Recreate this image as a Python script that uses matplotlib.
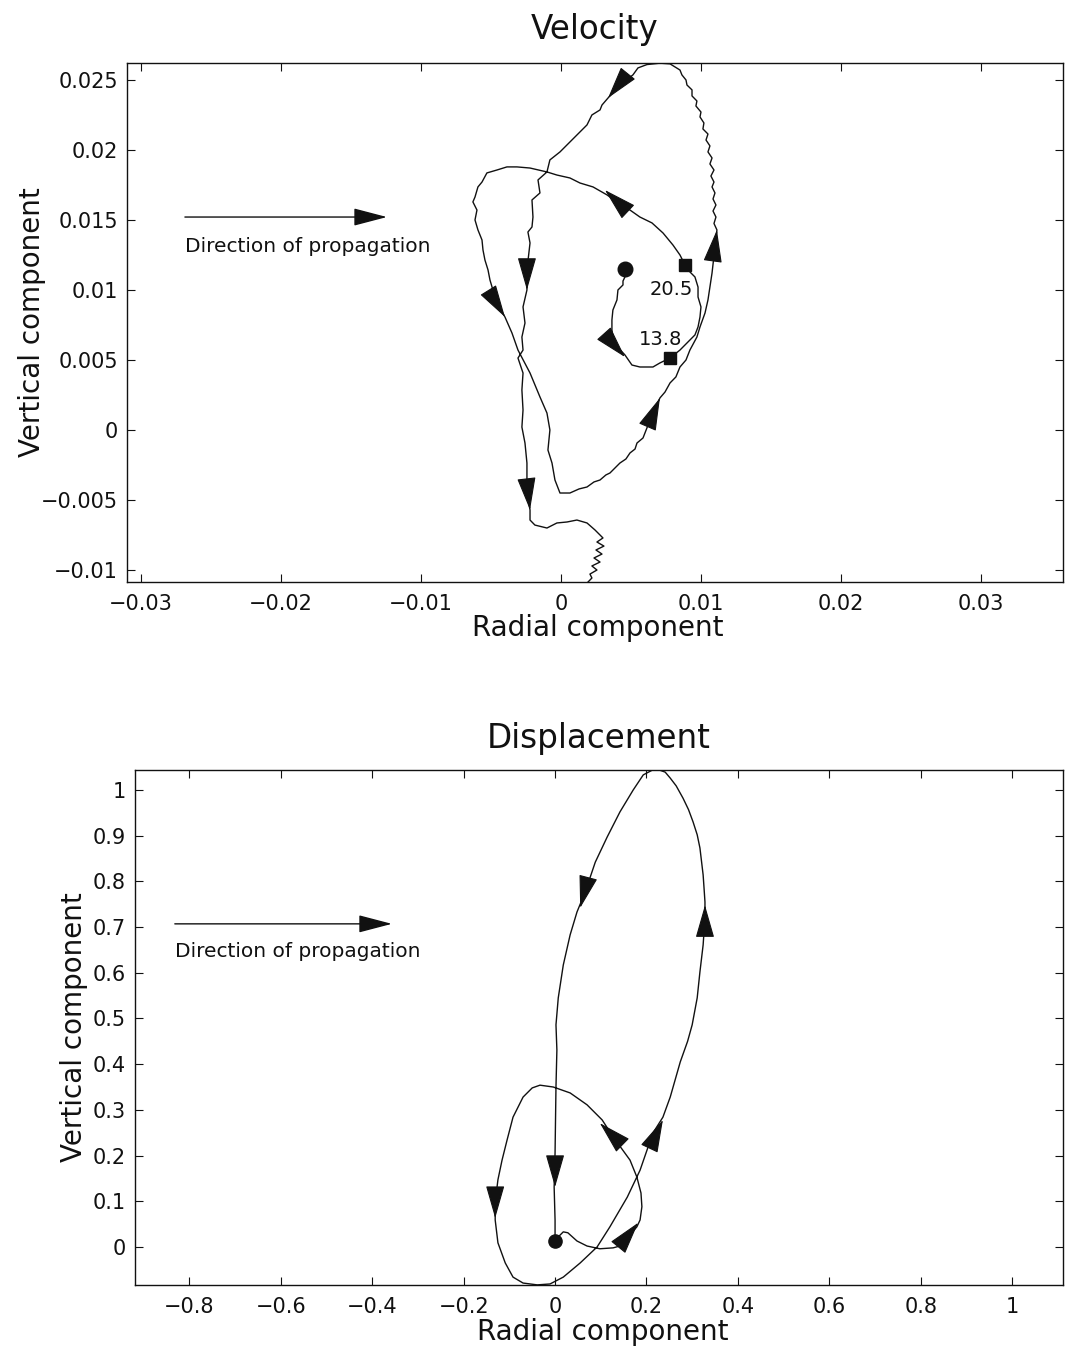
import numpy as np
import matplotlib
matplotlib.use('Agg')
import matplotlib.pyplot as plt

MINUS = '\u2212'

# Velocity particle motion, (radial, vertical) in units of 1e-3
vel_path = np.array([
    (4.57, 11.50), (4.57, 10.93), (4.43, 10.64), (4.43, 10.36), (4.07, 10.00),
    (4.00, 9.29), (3.71, 8.57), (3.64, 7.86), (3.64, 7.14), (3.79, 6.21),
    (4.57, 5.36), (5.07, 4.64), (5.64, 4.50), (6.57, 4.50), (7.07, 4.79),
    (7.79, 5.14), (8.50, 5.71), (9.21, 6.43), (9.57, 6.79), (9.79, 7.36),
    (9.93, 8.07), (10.00, 8.79), (9.79, 9.50), (9.79, 10.21), (9.57, 10.93),
    (9.21, 11.29), (8.86, 11.79), (8.50, 12.50), (8.00, 13.21), (7.29, 14.07),
    (6.50, 14.79), (5.64, 15.21), (4.93, 15.71), (4.00, 16.29), (3.29, 16.79),
    (2.29, 17.36), (1.36, 17.64), (0.64, 18.00), (-0.29, 18.21), (-1.00, 18.43),
    (-2.21, 18.71), (-3.14, 18.79), (-3.86, 18.79), (-4.57, 18.57), (-5.29, 18.36),
    (-5.64, 17.71), (-5.93, 17.36), (-6.14, 16.64), (-6.29, 16.29), (-6.00, 15.71),
    (-6.14, 15.00), (-5.93, 14.29), (-5.64, 13.57), (-5.57, 12.86), (-5.43, 12.14),
    (-5.21, 11.43), (-5.07, 10.71), (-4.86, 10.00), (-4.57, 9.07), (-4.00, 8.07),
    (-3.50, 6.93), (-3.07, 5.71), (-2.21, 4.07), (-1.50, 2.36), (-1.00, 1.21),
    (-0.79, 0.00), (-0.93, -1.43), (-0.64, -2.36), (-0.43, -3.57), (-0.07, -4.50),
    (0.64, -4.50), (1.29, -4.21), (1.86, -4.07), (2.36, -3.71), (2.79, -3.57),
    (3.21, -3.21), (3.50, -3.07), (3.93, -2.64), (4.21, -2.36), (4.64, -2.07),
    (4.93, -1.64), (5.29, -1.36), (5.43, -0.93), (5.86, -0.57), (6.00, -0.21),
    (6.50, 1.07), (7.07, 2.29), (7.43, 2.71), (7.79, 3.36), (8.21, 3.79),
    (8.50, 4.50), (8.93, 5.00), (9.21, 5.71), (9.71, 6.64), (9.93, 7.36),
    (10.29, 8.36), (10.50, 9.29), (10.64, 10.21), (10.79, 11.21), (11.00, 13.07),
    (11.14, 14.29), (10.93, 14.75), (11.07, 15.21), (10.86, 15.64), (11.07, 16.07),
    (10.86, 16.50), (11.00, 16.93), (10.79, 17.36), (10.93, 17.71), (10.71, 18.14),
    (10.93, 18.57), (10.64, 19.00), (10.79, 19.43), (10.50, 19.86), (10.64, 20.29),
    (10.36, 20.71), (10.50, 21.14), (10.14, 21.50), (10.21, 21.93), (9.93, 22.36),
    (10.00, 22.71), (9.64, 23.14), (9.71, 23.50), (9.36, 23.86), (9.36, 24.29),
    (9.00, 24.64), (8.93, 25.00), (8.64, 25.36), (8.50, 25.71), (8.14, 25.93),
    (7.79, 26.15), (7.07, 26.20), (6.14, 26.10), (5.50, 25.86), (5.14, 25.36),
    (4.21, 24.64), (3.36, 23.71), (2.93, 23.21), (2.79, 22.86), (2.21, 22.50),
    (1.86, 21.79), (1.14, 21.07), (0.43, 20.36), (-0.07, 19.86), (-0.79, 19.29),
    (-1.00, 18.43), (-1.64, 17.86), (-1.50, 16.93), (-2.07, 16.43), (-2.00, 15.21),
    (-2.07, 14.50), (-2.36, 14.14), (-2.21, 13.36), (-2.43, 11.43), (-2.43, 10.00),
    (-2.71, 8.79), (-2.57, 7.64), (-2.79, 6.64), (-2.71, 5.71), (-3.07, 5.14),
    (-2.71, 4.07), (-2.79, 2.86), (-2.71, 1.43), (-2.79, 0.21), (-2.57, -0.93),
    (-2.43, -2.36), (-2.43, -4.50), (-2.21, -5.71), (-2.21, -6.43), (-1.86, -6.79),
    (-1.00, -7.00), (-0.29, -6.64), (0.43, -6.57), (1.14, -6.43), (1.86, -6.64),
    (2.43, -7.14), (3.00, -7.71), (2.57, -8.00), (3.07, -8.29), (2.50, -8.57),
    (2.93, -8.86), (2.36, -9.14), (2.79, -9.43), (2.21, -9.71), (2.57, -10.00),
    (2.07, -10.29), (2.21, -10.57), (1.93, -10.86),
]) * 1e-3
vel_start = np.array([4.57, 11.50]) * 1e-3
vel_mark_times = ['13.8', '20.5']
vel_mark_points = np.array([(7.79, 5.14), (8.86, 11.79)]) * 1e-3
# direction heads along the path: (from_radial, from_vertical, to_radial, to_vertical)
vel_arrows = np.array([
    (3.29, 6.64, 4.57, 5.21),
    (4.50, 15.86, 3.14, 17.14),
    (-4.93, 9.57, -4.00, 8.07),
    (-2.43, 12.14, -2.43, 10.00),
    (-2.43, -3.79, -2.21, -5.71),
    (6.21, 0.29, 7.07, 2.29),
    (10.86, 12.21, 11.14, 14.29),
    (4.64, 25.29, 3.36, 23.71),
]) * 1e-3

# Displacement particle motion, (radial, vertical)
disp_path = np.array([
    (0.000, 0.013), (0.007, 0.022), (0.018, 0.033), (0.028, 0.031), (0.048, 0.013),
    (0.070, 0.002), (0.098, -0.004), (0.127, -0.002), (0.149, 0.004), (0.162, 0.024),
    (0.179, 0.044), (0.186, 0.059), (0.190, 0.088), (0.188, 0.118), (0.179, 0.153),
    (0.164, 0.190), (0.127, 0.241), (0.103, 0.278), (0.070, 0.311), (0.033, 0.337),
    (-0.004, 0.350), (-0.033, 0.354), (-0.050, 0.348), (-0.070, 0.328), (-0.092, 0.284),
    (-0.105, 0.234), (-0.116, 0.190), (-0.125, 0.147), (-0.131, 0.098), (-0.131, 0.059),
    (-0.125, 0.009), (-0.109, -0.035), (-0.092, -0.066), (-0.070, -0.079), (-0.039, -0.083),
    (-0.011, -0.081), (0.018, -0.066), (0.055, -0.035), (0.092, 0.000), (0.120, 0.044),
    (0.158, 0.109), (0.186, 0.168), (0.214, 0.249), (0.236, 0.284), (0.252, 0.328),
    (0.274, 0.405), (0.290, 0.450), (0.300, 0.486), (0.311, 0.545), (0.317, 0.602),
    (0.324, 0.661), (0.328, 0.720), (0.328, 0.755), (0.326, 0.785), (0.324, 0.814),
    (0.317, 0.873), (0.311, 0.902), (0.302, 0.930), (0.292, 0.957), (0.280, 0.982),
    (0.265, 1.009), (0.252, 1.026), (0.241, 1.039), (0.230, 1.043), (0.212, 1.043),
    (0.193, 1.033), (0.171, 1.000), (0.142, 0.952), (0.114, 0.897), (0.088, 0.842),
    (0.066, 0.777), (0.048, 0.733), (0.033, 0.683), (0.018, 0.617), (0.007, 0.545),
    (0.002, 0.486), (0.004, 0.431), (0.002, 0.350), (0.000, 0.206), (-0.002, 0.131),
    (0.000, 0.059), (0.000, 0.024),
])
disp_start = np.array([0.000, 0.013])
disp_arrows = np.array([
    (0.142, 0.004, 0.182, 0.053),
    (0.136, 0.234, 0.098, 0.271),
    (-0.131, 0.120, -0.131, 0.063),
    (0.208, 0.219, 0.236, 0.278),
    (0.328, 0.687, 0.328, 0.748),
    (0.070, 0.799, 0.055, 0.742),
    (0.000, 0.195, 0.000, 0.131),
])

# Axis ticks
vel_xticks = [-0.03, -0.02, -0.01, 0, 0.01, 0.02, 0.03]
vel_xticklabels = [MINUS + '0.03', MINUS + '0.02', MINUS + '0.01', '0',
                   '0.01', '0.02', '0.03']
vel_yticks = [-0.01, -0.005, 0, 0.005, 0.01, 0.015, 0.02, 0.025]
vel_yticklabels = [MINUS + '0.01', MINUS + '0.005', '0', '0.005', '0.01',
                   '0.015', '0.02', '0.025']
disp_xticks = [-0.8, -0.6, -0.4, -0.2, 0, 0.2, 0.4, 0.6, 0.8, 1.0]
disp_xticklabels = [MINUS + '0.8', MINUS + '0.6', MINUS + '0.4', MINUS + '0.2',
                    '0', '0.2', '0.4', '0.6', '0.8', '1']
disp_yticks = [0, 0.1, 0.2, 0.3, 0.4, 0.5, 0.6, 0.7, 0.8, 0.9, 1.0]
disp_yticklabels = ['0', '0.1', '0.2', '0.3', '0.4', '0.5', '0.6', '0.7',
                    '0.8', '0.9', '1']

INK = '#111111'


def style_axes(ax, xticks, xticklabels, yticks, yticklabels):
    """Matlab-like box axes with inward ticks on all sides."""
    ax.set_xticks(xticks)
    ax.set_xticklabels(xticklabels)
    ax.set_yticks(yticks)
    ax.set_yticklabels(yticklabels)
    ax.tick_params(direction='in', top=True, right=True, length=5.5,
                   width=0.8, labelsize=15, colors=INK)
    ax.tick_params(axis='x', pad=8.5)
    ax.tick_params(axis='y', pad=6.5)
    for spine in ax.spines.values():
        spine.set_linewidth(1.0)
        spine.set_color(INK)


def draw_heads(ax, arrows):
    """Filled triangular heads showing the sense of motion."""
    for x0, y0, x1, y1 in arrows:
        ax.annotate('', xy=(x1, y1), xytext=(x0, y0),
                    arrowprops=dict(arrowstyle='-|>,head_length=2.1,head_width=0.6',
                                    fc=INK, ec=INK, lw=0.8,
                                    shrinkA=0, shrinkB=0))


def draw_propagation(ax, x0, x1, y, text_y):
    ax.annotate('', xy=(x1, y), xytext=(x0, y),
                arrowprops=dict(arrowstyle='-|>,head_length=2.1,head_width=0.55',
                                fc=INK, ec=INK, lw=1.0,
                                shrinkA=0, shrinkB=0))
    ax.text(x0, text_y, 'Direction of propagation', fontsize=14.5,
            ha='left', va='center', color=INK)


fig = plt.figure(figsize=(10.65, 13.57), dpi=100)

# Velocity
ax1 = fig.add_axes([0.1192, 0.5711, 0.8789, 0.3825])
ax1.set_xlim(-0.0310, 0.035857)
ax1.set_ylim(-0.010857, 0.026214)
ax1.plot(vel_path[:, 0], vel_path[:, 1], color=INK, lw=1.0)
ax1.plot(vel_start[0], vel_start[1], 'o', color=INK, markersize=10.5)
ax1.plot(vel_mark_points[:, 0], vel_mark_points[:, 1], 's', color=INK,
         markersize=8.5)
label_offsets = [(-7, 13), (-10, -18)]
for label, (mx, my), off in zip(vel_mark_times, vel_mark_points, label_offsets):
    ax1.annotate(label, xy=(mx, my), xytext=off, textcoords='offset points',
                 ha='center', va='center', fontsize=14, color=INK)
draw_heads(ax1, vel_arrows)
draw_propagation(ax1, -0.02686, -0.01243, 0.01521, 0.01314)
style_axes(ax1, vel_xticks, vel_xticklabels, vel_yticks, vel_yticklabels)
ax1.set_title('Velocity', fontsize=23.5, pad=17, color=INK)
ax1.set_xlabel('Radial component', fontsize=20, color=INK)
ax1.set_ylabel('Vertical component', fontsize=20, color=INK)
ax1.xaxis.set_label_coords(0.503, -0.062)
ax1.yaxis.set_label_coords(-0.0865, 0.5)

# Displacement
ax2 = fig.add_axes([0.1268, 0.0531, 0.8714, 0.3795])
ax2.set_xlim(-0.91904, 1.11160)
ax2.set_ylim(-0.08315, 1.04376)
ax2.plot(disp_path[:, 0], disp_path[:, 1], color=INK, lw=1.0)
ax2.plot(disp_start[0], disp_start[1], 'o', color=INK, markersize=9.5)
draw_heads(ax2, disp_arrows)
draw_propagation(ax2, -0.832, -0.357, 0.707, 0.646)
style_axes(ax2, disp_xticks, disp_xticklabels, disp_yticks, disp_yticklabels)
ax2.set_title('Displacement', fontsize=23.5, pad=16, color=INK)
ax2.set_xlabel('Radial component', fontsize=20, color=INK)
ax2.set_ylabel('Vertical component', fontsize=20, color=INK)
ax2.xaxis.set_label_coords(0.504, -0.064)
ax2.yaxis.set_label_coords(-0.051, 0.5)

fig.savefig('out.png', dpi=100)
